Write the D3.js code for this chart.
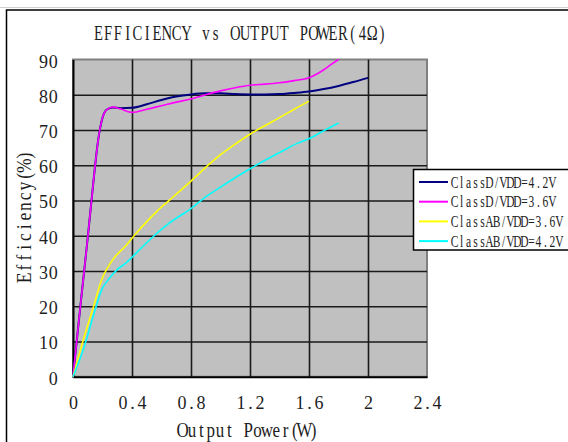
<!DOCTYPE html>
<html>
<head>
<meta charset="utf-8">
<script src="https://cdn.jsdelivr.net/npm/d3@7"></script>
<style>
  body { margin: 0; background: #fff; }
  text { font-family: "Liberation Serif", "DejaVu Serif", serif; fill: #1e1e1e; }
</style>
</head>
<body>
<div id="chart"></div>
<script>
// ---- data ----
var xTicks = [0, 0.4, 0.8, 1.2, 1.6, 2, 2.4]
var xTickLabels = ["0", "0.4", "0.8", "1.2", "1.6", "2", "2.4"]
var yTicks = [0, 10, 20, 30, 40, 50, 60, 70, 80, 90]

var seriesNames = ["ClassD/VDD=4.2V", "ClassD/VDD=3.6V", "ClassAB/VDD=3.6V", "ClassAB/VDD=4.2V"]
var seriesColors = ["#000080", "#ff00ff", "#ffff00", "#00ffff"]

var classD42X = [0, 0.05, 0.1, 0.14, 0.17, 0.2, 0.23, 0.27, 0.32, 0.4, 0.5, 0.6, 0.7, 0.8, 0.9, 1.0, 1.1, 1.2, 1.3, 1.4, 1.5, 1.6, 1.7, 1.8, 1.9, 2.0]
var classD42Y = [0, 20, 39.5, 56, 67, 73.5, 75.8, 76.4, 76.2, 76.3, 77.3, 78.5, 79.5, 80.1, 80.4, 80.4, 80.2, 80.1, 80.1, 80.2, 80.5, 80.9, 81.6, 82.5, 83.6, 84.8]

var classD36X = [0, 0.05, 0.1, 0.14, 0.17, 0.2, 0.23, 0.27, 0.32, 0.4, 0.5, 0.6, 0.7, 0.8, 0.9, 1.0, 1.1, 1.2, 1.3, 1.4, 1.5, 1.6, 1.65, 1.7, 1.75, 1.8]
var classD36Y = [0, 20, 39.5, 56, 67, 73.5, 75.8, 76.5, 76, 75, 75.9, 76.9, 77.9, 78.8, 80.0, 81.1, 82.0, 82.7, 83.0, 83.4, 84.0, 84.8, 85.8, 87.1, 88.6, 90]

var classAB36X = [0, 0.07, 0.14, 0.195, 0.24, 0.285, 0.35, 0.43, 0.5, 0.57, 0.66, 0.8, 0.93, 1.0, 1.1, 1.2, 1.3, 1.4, 1.5, 1.6]
var classAB36Y = [0, 10.5, 20, 27.6, 31.3, 34, 36.8, 40.8, 44, 47, 50.3, 55.5, 60.5, 63, 66, 68.8, 71.2, 73.5, 75.9, 78.2]

var classAB42X = [0, 0.07, 0.15, 0.195, 0.24, 0.3, 0.36, 0.45, 0.55, 0.65, 0.8, 0.9, 1.0, 1.2, 1.4, 1.52, 1.6, 1.7, 1.8]
var classAB42Y = [0, 7.7, 19, 24.7, 27.6, 30.4, 32.3, 36, 40, 43.5, 47.7, 51, 53.8, 59, 63.6, 66.2, 67.5, 69.8, 72]

var seriesX = [classD42X, classD36X, classAB36X, classAB42X]
var seriesY = [classD42Y, classD36Y, classAB36Y, classAB42Y]
var series = seriesNames.map((name, i) => ({
  name: name,
  color: seriesColors[i],
  points: seriesX[i].map((v, j) => [v, seriesY[i][j]])
}))

// ---- layout ----
var W = 568, H = 442
var plot = {left: 73, right: 427, top: 59.5, bottom: 376.7}

var svg = d3.select("#chart").append("svg")
    .attr("width", W)
    .attr("height", H)

// lay a text out on a fixed cell grid (the original uses a half-width CJK font,
// so every latin glyph sits in an equal cell). sx squeezes glyphs horizontally.
function mono(t, x0, y0, cellW, sx, anchor) {
  var str = t.text(), n = str.length
  var total = n * cellW
  var start = anchor == "middle" ? x0 - total / 2 : anchor == "end" ? x0 - total : x0
  t.attr("text-anchor", "start").attr("dy", null).attr("x", 0).attr("y", 0)
  var node = t.node()
  var xs = []
  for (var i = 0; i < n; i++) {
    var w = node.getSubStringLength(i, 1) * sx
    xs.push(((start + i * cellW + (cellW - w) / 2) / sx).toFixed(2))
  }
  var tr = t.attr("transform") || ""
  t.attr("x", xs.join(" ")).attr("y", y0).attr("transform", tr + " scale(" + sx + ",1)")
}

// outer frame
svg.append("line").attr("x1", 0).attr("x2", W).attr("y1", 7.5).attr("y2", 7.5)
    .style("stroke", "#d0d0d0").style("stroke-width", 1)
svg.append("rect").attr("x", 6.5).attr("y", 10).attr("width", W + 10).attr("height", H + 10)
    .style("fill", "none").style("stroke", "#000").style("stroke-width", 1.5)

var x = d3.scaleLinear().domain([0, 2.4]).range([plot.left, plot.right])
var y = d3.scaleLinear().domain([0, 90]).range([plot.bottom, plot.top])

// plot background
svg.append("rect")
    .attr("x", plot.left).attr("y", plot.top)
    .attr("width", plot.right - plot.left).attr("height", plot.bottom - plot.top)
    .style("fill", "#c0c0c0")
    .style("stroke", "#808080")
    .style("stroke-width", 2)

// gridlines
var gridY = svg.append("g")
    .attr("transform", "translate(" + plot.left + ",0)")
    .call(d3.axisLeft(y).tickValues(yTicks.slice(1, -1)).tickSize(-(plot.right - plot.left)).tickFormat(""))
gridY.select(".domain").remove()
gridY.selectAll("line").style("stroke", "#1a1a1a").style("stroke-width", 1.6)

var gridX = svg.append("g")
    .attr("transform", "translate(0," + plot.bottom + ")")
    .call(d3.axisBottom(x).tickValues(xTicks.slice(1, -1)).tickSize(-(plot.bottom - plot.top)).tickFormat(""))
gridX.select(".domain").remove()
gridX.selectAll("line").style("stroke", "#1a1a1a").style("stroke-width", 1.6)

// axes
var axisY = svg.append("g")
    .attr("transform", "translate(" + plot.left + ",0)")
    .call(d3.axisLeft(y).tickValues(yTicks).tickSize(0).tickPadding(15))
axisY.select(".domain").style("stroke", "#000").style("stroke-width", 2)
axisY.attr("font-family", null)
axisY.selectAll("text")
    .style("font-size", "18px")
    .each(function() { mono(d3.select(this), -15, 7.5, 9.6, 1, "end") })

var axisX = svg.append("g")
    .attr("transform", "translate(0," + plot.bottom + ")")
    .call(d3.axisBottom(x).tickValues(xTicks).tickSize(0)
      .tickFormat((d, i) => xTickLabels[i]))
axisX.select(".domain").style("stroke", "#000").style("stroke-width", 2)
axisX.attr("font-family", null)
axisX.selectAll("text")
    .style("font-size", "18px")
    .each(function() { mono(d3.select(this), 0, 32.3, 9.5, 1, "middle") })

// curves
var line = d3.line()
    .x(d => x(d[0]))
    .y(d => y(d[1]))
    .curve(d3.curveMonotoneX)

svg.selectAll(".series")
    .data(series)
    .enter()
    .append("path")
    .attr("class", "series")
    .attr("d", d => line(d.points))
    .style("fill", "none")
    .style("stroke", d => d.color)
    .style("stroke-width", d => d.name == seriesNames[0] ? 2 : 1.6)

// titles
var title = svg.append("text")
    .style("font-size", "21px")
    .text("EFFICIENCY vs OUTPUT POWER(4Ω)")
mono(title, 93.5, 40, 9.78, 0.7, "start")

var xTitle = svg.append("text")
    .style("font-size", "20px")
    .text("Output Power(W)")
mono(xTitle, 178, 437, 9.35, 0.85, "start")

var yTitle = svg.append("text")
    .attr("transform", "translate(31,283)rotate(-90)")
    .style("font-size", "20px")
    .text("Efficiency(%)")
mono(yTitle, 0, 0, 10.2, 0.88, "start")

// legend
var legend = svg.append("g")
legend.append("rect")
    .attr("x", 413.5).attr("y", 169.5)
    .attr("width", 170).attr("height", 80.5)
    .style("fill", "#fff")
    .style("stroke", "#000")
    .style("stroke-width", 1.5)

var rows = legend.selectAll(".entry")
    .data(series)
    .enter()
    .append("g")
    .attr("class", "entry")
    .attr("transform", (d, i) => "translate(0," + (182 + i * 19.7) + ")")

rows.append("line")
    .attr("x1", 419).attr("x2", 448)
    .style("stroke", d => d.color)
    .style("stroke-width", 2)

rows.append("text")
    .style("font-size", "16px")
    .text(d => d.name)
    .each(function() { mono(d3.select(this), 451, 5.5, 7.0, 0.72, "start") })
</script>
</body>
</html>
